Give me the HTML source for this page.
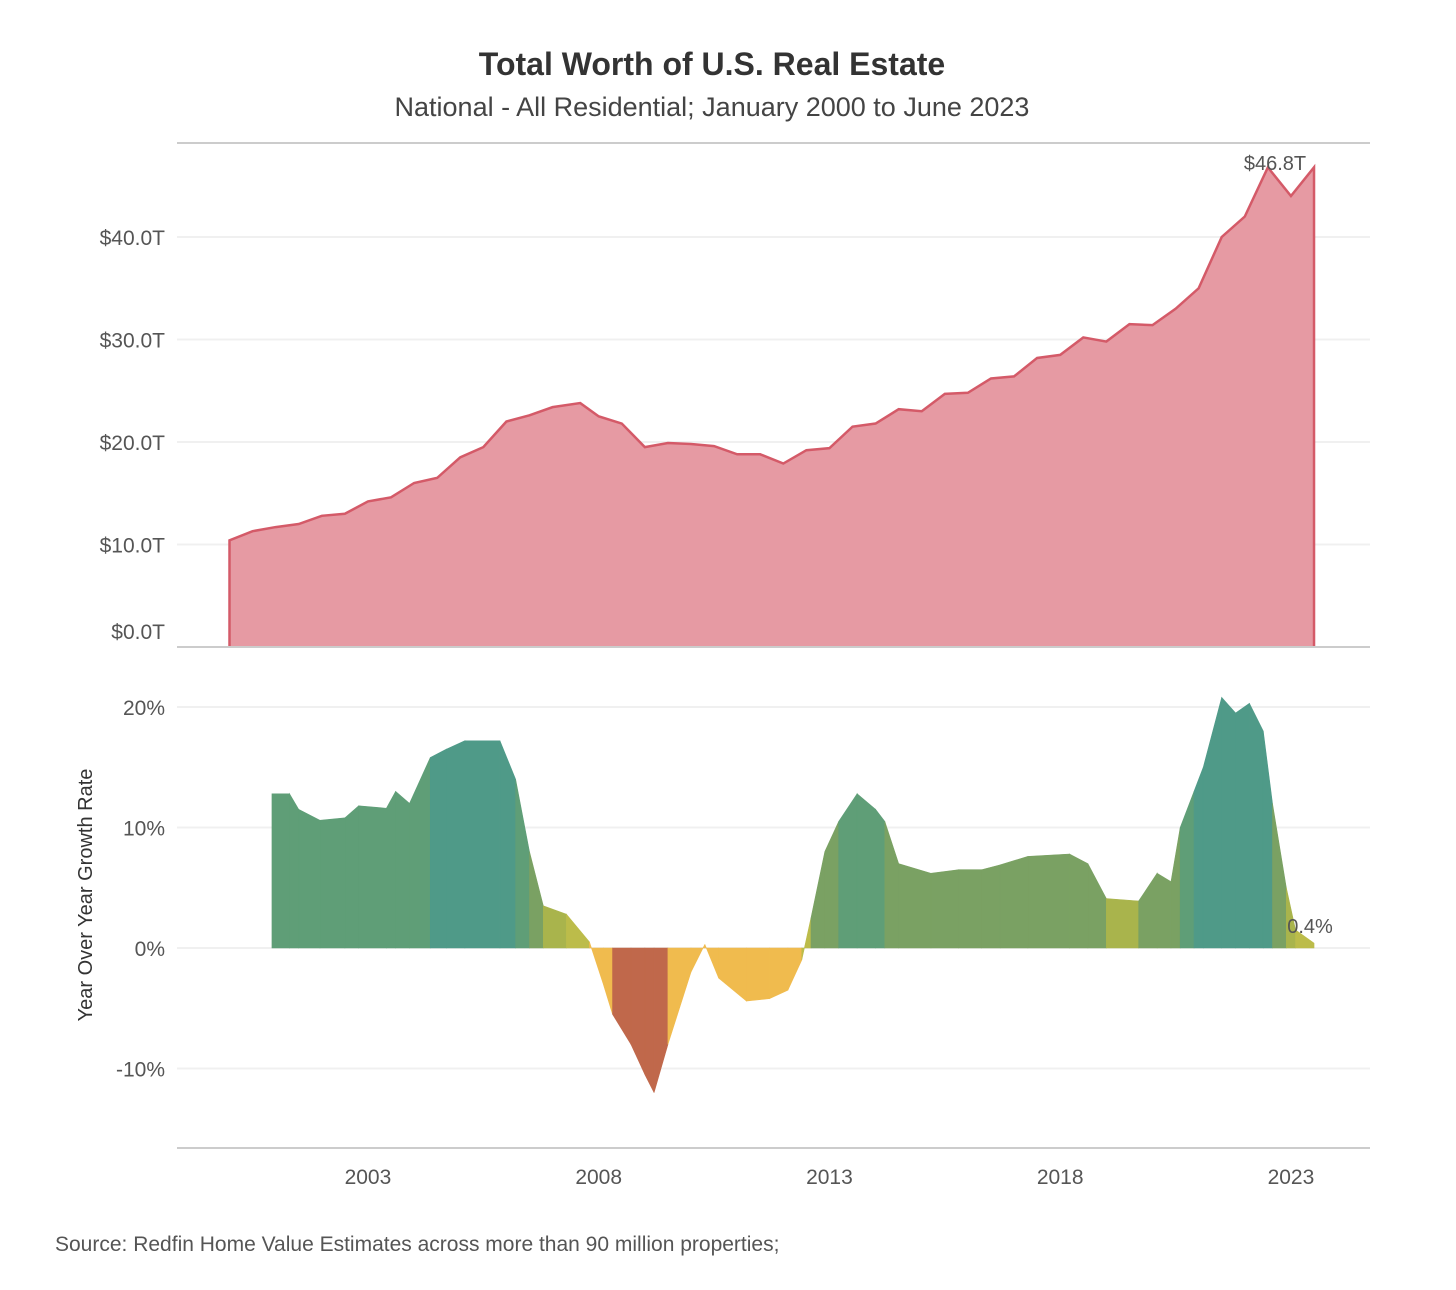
<!DOCTYPE html>
<html><head><meta charset="utf-8"><style>
body{margin:0;background:#fff;font-family:"Liberation Sans",sans-serif;}
svg text{font-family:"Liberation Sans",sans-serif;}
</style></head><body>
<svg id="chart" width="1456" height="1285">
<text x="712" y="75" text-anchor="middle" font-size="32" font-weight="bold" fill="#333">Total Worth of U.S. Real Estate</text>
<text x="712" y="116" text-anchor="middle" font-size="27" fill="#444">National - All Residential; January 2000 to June 2023</text>
<line x1="177" y1="143" x2="1370" y2="143" stroke="#ccc" stroke-width="2"/>
<g id="topG"></g>
<g id="botG"></g>
<text transform="translate(92,895) rotate(-90)" text-anchor="middle" font-size="20" fill="#333">Year Over Year Growth Rate</text>
<text x="55" y="1251" font-size="21" fill="#555">Source: Redfin Home Value Estimates across more than 90 million properties;</text>
</svg>
<script>
const worthYears=[2000,2000.5,2001,2001.5,2002,2002.5,2003,2003.5,2004,2004.5,2005,2005.5,2006,2006.5,2007,2007.6,2008,2008.5,2009,2009.5,2010,2010.5,2011,2011.5,2012,2012.5,2013,2013.5,2014,2014.5,2015,2015.5,2016,2016.5,2017,2017.5,2018,2018.5,2019,2019.5,2020,2020.5,2021,2021.5,2022,2022.5,2023,2023.5];
const worthValues=[10.4,11.3,11.7,12.0,12.8,13.0,14.2,14.6,16.0,16.5,18.5,19.5,22.0,22.6,23.4,23.8,22.5,21.8,19.5,19.9,19.8,19.6,18.8,18.8,17.9,19.2,19.4,21.5,21.8,23.2,23.0,24.7,24.8,26.2,26.4,28.2,28.5,30.2,29.8,31.5,31.4,33.0,35.0,40.0,42.0,46.8,44.0,46.8];
const growthYears=[2000.92,2001.3,2001.5,2001.96,2002.5,2002.8,2003.4,2003.6,2003.9,2004.35,2004.7,2005.1,2005.86,2006.2,2006.5,2006.8,2007.3,2007.8,2008.1,2008.3,2008.7,2009.0,2009.2,2009.5,2010.0,2010.3,2010.6,2011.2,2011.7,2012.1,2012.4,2012.6,2012.9,2013.2,2013.6,2014.0,2014.2,2014.5,2015.2,2015.8,2016.3,2016.7,2017.3,2018.2,2018.6,2019.0,2019.7,2020.1,2020.4,2020.6,2020.9,2021.1,2021.5,2021.8,2022.1,2022.4,2022.6,2022.9,2023.1,2023.5];
const growthValues=[12.8,12.8,11.5,10.6,10.8,11.8,11.6,13,12,15.8,16.5,17.2,17.2,14,8,3.5,2.8,0.5,-3,-5.5,-8,-10.5,-12,-8,-2,0.3,-2.5,-4.4,-4.2,-3.5,-1,2.5,8,10.5,12.8,11.5,10.5,7,6.2,6.5,6.5,6.9,7.6,7.8,7,4.1,3.9,6.2,5.5,10,13,15,20.8,19.5,20.3,18,12,5,1.5,0.4];
const worthTicks=[0,10,20,30,40];
const growthTicks=[-10,0,10,20];
const yearTicks=[2003,2008,2013,2018,2023];
const NS='http://www.w3.org/2000/svg';
const xS=y=>229.5+(y-2000)*46.15;
const yW=v=>647-v*10.25;
const yG=v=>948-v*12.05;
function mk(tag,attrs,parent){const e=document.createElementNS(NS,tag);for(const k in attrs)e.setAttribute(k,attrs[k]);parent.appendChild(e);return e;}
const topG=document.getElementById('topG'),botG=document.getElementById('botG');
worthTicks.forEach(t=>{
 const l=mk('line',{x1:177,x2:1370,y1:yW(t),y2:yW(t),stroke:'#f0f0f0','stroke-width':2},topG);
 
 
 const tx=mk('text',{x:165,y:yW(t)+(t===0?-8:8),'text-anchor':'end','font-size':21,fill:'#555'},topG);
 tx.textContent='$'+t.toFixed(1)+'T';
 
 
});
let d='M'+xS(worthYears[0])+','+yW(0);
worthYears.forEach((y,i)=>{d+=' L'+xS(y)+','+yW(worthValues[i]);});
d+=' L'+xS(worthYears[worthYears.length-1])+','+yW(0)+'Z';
const area=mk('path',{d:d,fill:'#e69aa3'},topG);


let ld='';
worthYears.forEach((y,i)=>{ld+=' L'+xS(y)+','+yW(worthValues[i]);});
const line=mk('path',{d:'M'+xS(worthYears[0])+','+yW(0)+ld+' L'+xS(worthYears[worthYears.length-1])+','+yW(0),fill:'none',stroke:'#d45a68','stroke-width':2.5},topG);


const bl=mk('line',{x1:177,x2:1370,y1:647,y2:647,stroke:'#ccc','stroke-width':2},topG);


const lab=mk('text',{x:1275,y:170,'text-anchor':'middle','font-size':20,fill:'#555'},topG);
lab.textContent='$'+worthValues[worthValues.length-1].toFixed(1)+'T';


growthTicks.forEach(t=>{
 const l=mk('line',{x1:177,x2:1370,y1:yG(t),y2:yG(t),stroke:'#f0f0f0','stroke-width':2},botG);
 
 
 const tx=mk('text',{x:165,y:yG(t)+8,'text-anchor':'end','font-size':21,fill:'#555'},botG);
 tx.textContent=t+'%';
 
 
});
function col(v){if(v>=14)return '#4f9a88';if(v>=10)return '#5f9e77';if(v>=5)return '#7aa163';if(v>=2)return '#a9b44c';if(v>=0)return '#bcbc4a';if(v>=-5)return '#f0bb4e';return '#c0684b';}
for(let i=0;i<growthYears.length-1;i++){
 const x0=xS(growthYears[i]),x1=xS(growthYears[i+1]),v0=growthValues[i],v1=growthValues[i+1];
 const c=col((v0+v1)/2);
 const p=mk('path',{d:`M${x0},${yG(0)} L${x0},${yG(v0)} L${x1},${yG(v1)} L${x1},${yG(0)}Z`,fill:c,stroke:c,'stroke-width':0.6},botG);
 
 
}
const gl=mk('text',{x:1310,y:933,'text-anchor':'middle','font-size':20,fill:'#555'},botG);
gl.textContent=growthValues[growthValues.length-1].toFixed(1)+'%';


const ax=mk('line',{x1:177,x2:1370,y1:1148,y2:1148,stroke:'#ccc','stroke-width':2},botG);


yearTicks.forEach(y=>{
 const tx=mk('text',{x:xS(y),y:1184,'text-anchor':'middle','font-size':21,fill:'#555'},botG);
 tx.textContent=y;
 
 
});
</script>
</body></html>
